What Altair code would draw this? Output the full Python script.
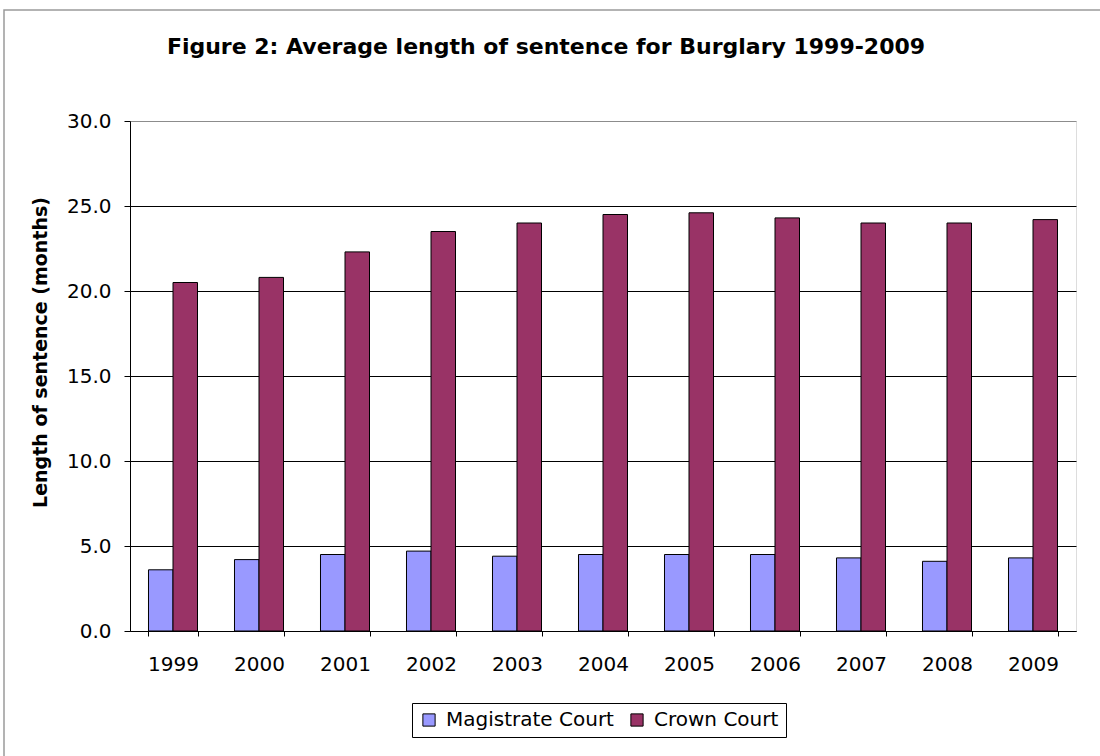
import altair as alt
import pandas as pd

# Average sentence length (months) for burglary, by court and year
years = ["1999", "2000", "2001", "2002", "2003", "2004", "2005", "2006", "2007", "2008", "2009"]
magistrate = [3.6, 4.2, 4.5, 4.7, 4.4, 4.5, 4.5, 4.5, 4.3, 4.1, 4.3]
crown = [20.5, 20.8, 22.3, 23.5, 24.0, 24.5, 24.6, 24.3, 24.0, 24.0, 24.2]
courts = ["Magistrate Court", "Crown Court"]
colors = ["#9999FF", "#993366"]
y_ticks = [0, 5, 10, 15, 20, 25, 30]

rows = []
for i, yr in enumerate(years):
    rows.append({"year": yr, "court": courts[0], "months": magistrate[i]})
    rows.append({"year": yr, "court": courts[1], "months": crown[i]})
df = pd.DataFrame(rows)

W, H = 946, 510
FONT = "DejaVu Sans"

# light grey frame around the whole figure
frame = alt.Chart(alt.Data(values=[{"k": 0}])).mark_rect(
    fill="transparent", stroke="#9a9a9a", strokeWidth=1.5
).encode(
    x=alt.value(-126), x2=alt.value(1100), y=alt.value(-111), y2=alt.value(1000)
)

bars = alt.Chart(df).mark_bar(stroke="black", strokeWidth=1).encode(
    x=alt.X(
        "year:N", sort=years, title=None,
        scale=alt.Scale(paddingInner=0.43, paddingOuter=0.215),
        axis=alt.Axis(
            labelAngle=0, tickBand="extent", ticks=True, tickSize=5,
            tickColor="black", domainColor="black", grid=False,
            labelFont=FONT, labelFontSize=20, labelColor="black",
            labelPadding=18,
        ),
    ),
    xOffset=alt.XOffset("court:N", sort=courts),
    y=alt.Y(
        "months:Q",
        scale=alt.Scale(domain=[0, 30], nice=False),
        axis=alt.Axis(
            values=y_ticks, format=".1f", title="Length of sentence (months)",
            titleFont=FONT, titleFontSize=19, titleFontWeight="bold",
            titleColor="black", titleX=-80, titleY=231,
            tickSize=6, tickColor="black", domainColor="black",
            labelFont=FONT, labelFontSize=20, labelColor="black",
            labelPadding=13,
            grid=True, gridWidth=1,
            gridColor={"condition": {"test": "datum.value === 30", "value": "#8c8c8c"},
                       "value": "black"},
        ),
    ),
    color=alt.Color(
        "court:N", sort=courts,
        scale=alt.Scale(domain=courts, range=colors),
        legend=alt.Legend(
            title=None, orient="none", direction="horizontal",
            legendX=282, legendY=582,
            strokeColor="black", fillColor="white", padding=7,
            symbolType="square", symbolSize=150,
            symbolStrokeColor="black", symbolStrokeWidth=1,
            labelFont=FONT, labelFontSize=20, labelColor="black",
            labelOffset=7, columnPadding=13, labelLimit=400,
        ),
    ),
)

chart = alt.layer(frame, bars).properties(
    width=W, height=H,
    autosize=alt.AutoSizeParams(type="none"),
    padding={"left": 130, "top": 121, "right": 24, "bottom": 125},
    title=alt.TitleParams(
        "Figure 2: Average length of sentence for Burglary 1999-2009",
        font=FONT, fontSize=22, fontWeight="bold", color="black",
        anchor="middle", frame="group", dx=-57, baseline="alphabetic",
        offset=-67,
    ),
).configure_view(stroke="#8c8c8c", strokeWidth=1).configure(background="white")

chart.save("out.html", embed_options={"renderer": "svg", "actions": False})
